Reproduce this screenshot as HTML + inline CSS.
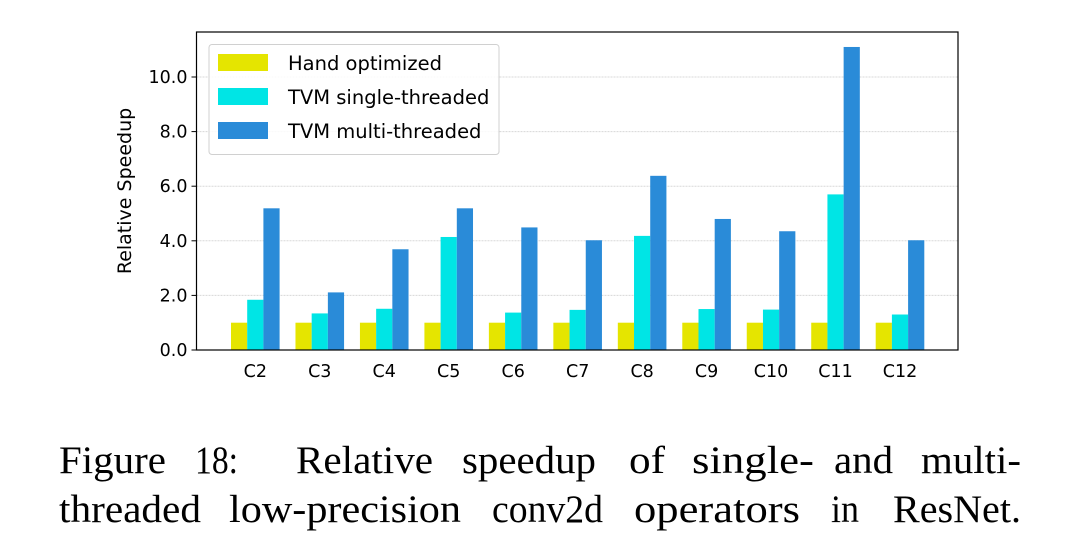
<!DOCTYPE html>
<html><head><meta charset="utf-8"><style>
html,body{margin:0;padding:0;background:#fff;}
svg{display:block;}
</style></head><body>
<svg id="chart" width="1080" height="535" xmlns="http://www.w3.org/2000/svg">
</svg>
<script>
const categories = ["C2","C3","C4","C5","C6","C7","C8","C9","C10","C11","C12"];
const handOptimized = [1,1,1,1,1,1,1,1,1,1,1];
const tvmSingle = [1.84,1.34,1.51,4.14,1.37,1.47,4.18,1.5,1.48,5.7,1.3];
const tvmMulti = [5.19,2.11,3.69,5.19,4.49,4.02,6.38,4.8,4.35,11.1,4.02];
const yTicks = [0,2,4,6,8,10];
const yTickLabels = ["0.0","2.0","4.0","6.0","8.0","10.0"];
const seriesNames = ["Hand optimized","TVM single-threaded","TVM multi-threaded"];
const seriesColors = ["#e5e500","#00e5e5","#2a8bd8"];

const NS="http://www.w3.org/2000/svg";
const svg=document.getElementById('chart');
const L=196.5,R=958,T=32,B=350;
const yUnit=27.3;
function yS(v){return B-v*yUnit;}
const step=(900-255.3)/10;
function xS(i){return 255.3+i*step;}
const bw=16.2;
function mk(tag,attrs,parent){const e=document.createElementNS(NS,tag);for(const k in attrs)e.setAttribute(k,attrs[k]);(parent||svg).appendChild(e);return e;}
const font='"DejaVu Sans","Liberation Sans",sans-serif';

yTicks.forEach((t,i)=>{
  if(t>0){const g=mk('line',{x1:L,x2:R,y1:yS(t),y2:yS(t),stroke:'#d8d8d8','stroke-width':1,'stroke-dasharray':'2,1'});
  
  }
  const tk=mk('line',{x1:L-5,x2:L,y1:yS(t),y2:yS(t),stroke:'#000','stroke-width':1});
  
  
  const tx=mk('text',{x:L-9,y:yS(t)+6,'text-anchor':'end','font-family':font,'font-size':17.5,fill:'#000'});
  tx.textContent=yTickLabels[i];
  
  
});

const series=[handOptimized,tvmSingle,tvmMulti];
categories.forEach((c,i)=>{
  series.forEach((s,j)=>{
    const x=xS(i)+(j-1)*bw-bw/2;
    const r=mk('rect',{x:x,y:yS(s[i]),width:bw,height:s[i]*yUnit,fill:seriesColors[j]});
    
    
  });
  const tx=mk('text',{x:xS(i),y:B+27,'text-anchor':'middle','font-family':font,'font-size':17.5,fill:'#000'});
  tx.textContent=c;
  
  
});

const frame=mk('rect',{x:L,y:T,width:R-L,height:B-T,fill:'none',stroke:'#000','stroke-width':1.2});



const yl=mk('text',{x:0,y:0,transform:'translate(131,191) rotate(-90)','text-anchor':'middle','font-family':font,'font-size':19,fill:'#000'});
yl.textContent='Relative Speedup';



const lg=mk('rect',{x:209,y:44.5,width:290,height:110,rx:3,fill:'#fff','fill-opacity':0.85,stroke:'#d0d0d0','stroke-width':1});


seriesNames.forEach((n,j)=>{
  const yy=54+j*34;
  const sw=mk('rect',{x:218,y:yy,width:50,height:17,fill:seriesColors[j]});
  
  
  const t=mk('text',{x:288,y:yy+16,'font-family':font,'font-size':19.5,fill:'#000'});
  t.textContent=n;
  
  
});

const cap1=[["Figure",59,166],["18:",195,238],["Relative",296,433],["speedup",462,596],["of",629,665],["single-",692,814],["and",834,893],["multi-",921,1021]];
const cap2=[["threaded",59,201],["low-precision",229,461],["conv2d",492,603],["operators",634,800],["in",831,859],["ResNet.",893,1021]];
[[cap1,473,'caption-line-1'],[cap2,522,'caption-line-2']].forEach(([words,by,nm])=>{
  const g=mk('g',{});
  
  
  words.forEach(w=>{
    const t=mk('text',{x:w[1],y:by,textLength:w[2]-w[1],lengthAdjust:'spacingAndGlyphs','font-family':'"Liberation Serif",serif','font-size':39,fill:'#000'},g);
    t.textContent=w[0];
  });
});
</script>
</body></html>
